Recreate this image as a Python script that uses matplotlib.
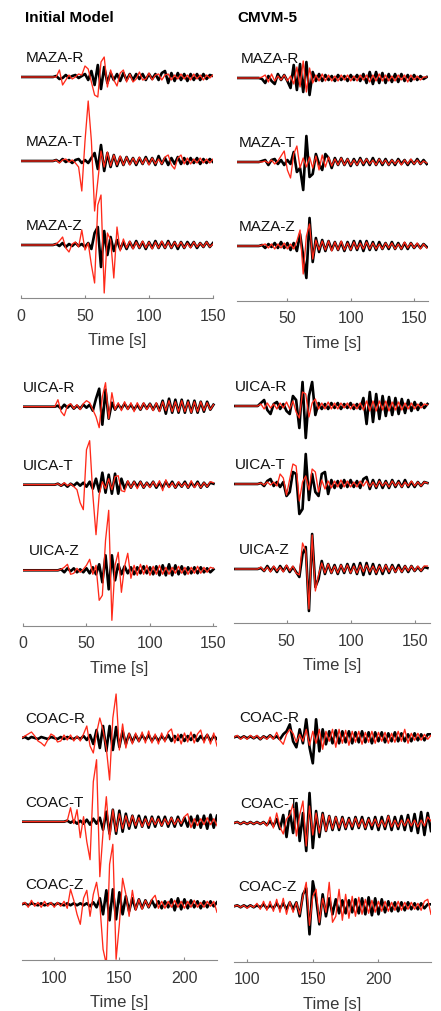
import numpy as np
import matplotlib.pyplot as plt

plt.rcParams['font.family'] = ['Liberation Sans', 'DejaVu Sans']

# =========================================================
# Waveform data: amplitude (px, up positive) sampled every DT seconds
# "obs" = black trace, "syn" = red trace
# =========================================================
DT = 2.5

# ---- MAZA, initial model (t from 0 s) ----
init_maza_r_obs = [0, 0, 0, 0, 0, 0, 0, 0, 0, 0, 0,
                   1, -2, -1, 2, -1, 1, 2, -1, 1, 3, -3, 6, -8, 12, -12, 10, -6, 4, -3, 3,
                   -4, 4, -3, 3, -3, 3, -2, 3, -3, 3, -2, 3, -3, 4, 6, -6, 4, -4, 4, -3,
                   3, -4, 3, -3, 3, -3, 3, -2, 2, 1]
init_maza_r_syn = [0, 0, 0, 0, 0, 0, 0, 0, 0, 0, 0, 0,
                   7, -8, -3, 2, -2, 0, 3, 2, 11, 8, -5, -18, -20, 15, 20, -10, 7, -3, -9,
                   4, 7, -5, 3, -5, -2, 5, -3, -2, 4, -3, 2, 3, -3, 2, 3, -3, 2, -2, 3,
                   -2, 2, -3, 3, -2, 2, -3, 2, -1, 2]
init_maza_t_obs = [0, 0, 0, 0, 0, 0, 0, 0, 0, 0, 0,
                   1, -1, 2, -1, 1, -2, 1, 2, -2, 1, -2, 3, 8, -8, 16, -10, 8, -6, 6, -5,
                   4, -4, 4, -3, 3, -4, 3, -3, 4, -3, 3, -4, 5, -3, 3, -4, 3, -3, 4, -3,
                   3, -3, 3, -2, 3, -3, 2, -2, 2, -1]
init_maza_t_syn = [0, 0, 0, 0, 0, 0, 0, 0, 0, 0, 0,
                   1, -2, 1, 2, -1, 1, -2, -6, -30, 20, 60, 20, -50, -20, 10, -6, 9, -5, 6, -4,
                   5, -4, 4, -4, 3, -3, 4, -3, 3, -4, 3, -3, 2, -3, 4, 6, -4, -8, 3, 6,
                   -3, 3, -3, 2, -2, 3, -2, 2, -2, 2]
init_maza_z_obs = [0, 0, 0, 0, 0, 0, 0, 0, 0, 0, 0,
                   1, -1, 2, -2, 1, -1, 2, -1, 1, -2, 2, -4, 12, 18, -22, 14, -10, 8, -6, 5,
                   -4, 3, -4, 3, -3, 4, -3, 3, -4, 3, -3, 4, -3, 3, -3, 4, -3, 3, -4, 3,
                   -3, 3, -2, 3, -3, 2, -2, 3, -2, 2]
init_maza_z_syn = [0, 0, 0, 0, 0, 0, 0, 0, 0, 0, 0,
                   1, 4, 8, -3, -7, 1, 3, -2, 15, -5, 2, -20, -38, 40, 50, -48, 12, 5, -33, 18,
                   -6, 6, -3, 4, -4, 3, -3, 4, -3, 3, -4, 3, -3, 4, -3, 3, -3, 3, -2, 3,
                   -3, 2, -3, 3, -2, 2, -2, 3, -2, 1]

# ---- MAZA, CMVM-5 (t from 10 s) ----
cmvm_maza_r_obs = [0, 0, 0, 0, 0, 0, 0, 0,
                   -1, -5, 2, -3, -6, 4, -2, 3, -3, -10, 13, -12, 14, -14, 16, -17, 6, -3,
                   4, -3, 3, -2, 2, -3, 3, -2, 2, -3, 3, -2, 3, -3, 4, -5, 6, -6, 6, -5,
                   5, -5, 4, -4, 4, -4, 4, -3, 3, -3, 3, -2, 2, -1, 1]
cmvm_maza_r_syn = [0, 0, 0, 0, 0, 0, 0, 0,
                   1, 3, -4, 4, -3, 2, -2, 3, -3, 2, -6, 11, -9, 17, -14, 10, -5, 3,
                   -3, 4, -3, 3, -3, 2, -3, 3, -2, 3, -3, 2, -3, 3, -2, 3, -4, 3, -3, 4,
                   -3, 3, -3, 2, -3, 3, -2, 3, -4, 3, -2, 2, -2, 1, 1]
cmvm_maza_t_obs = [0, 0, 0, 0, 0, 0, 0, 0,
                   1, 2, -3, 2, 3, -2, 2, -3, 2, -2, 10, -10, -6, -28, 26, -15, -12, 8,
                   -2, -8, 8, 4, -6, 4, -3, 4, -3, 3, -4, 3, -3, 4, -3, 3, -3, 4, -3, 3,
                   -3, 3, -3, 2, -3, 3, -2, 2, -3, 2, -2, 3, -2, 2, -2]
cmvm_maza_t_syn = [0, 0, 0, 0, 0, 0, 0, 0,
                   0, 1, -1, 2, -2, 1, 6, 11, -8, -16, 8, 16, -6, 4, -5, 5, -6, 6,
                   -8, 7, -5, 5, -4, 3, -3, 4, -3, 3, -3, 2, -3, 3, -2, 3, -2, 2, -3, 3,
                   -2, 2, -3, 2, -2, 2, -3, 2, -2, 3, -2, 2, -2, 1, -1]
cmvm_maza_z_obs = [0, 0, 0, 0, 0, 0, 0, 0,
                   1, -2, 2, -1, 3, -2, 4, -2, 3, -4, 3, -5, 12, -10, -32, 28, -16, 8,
                   -6, 6, -5, 5, -4, 4, -4, 4, -5, 4, -4, 5, -4, 5, -5, 5, -4, 4, -4, 4,
                   -3, 3, -3, 4, -3, 3, -3, 3, -3, 3, -2, 2, -2, 2, -1]
cmvm_maza_z_syn = [0, 0, 0, 0, 0, 0, 0, 0,
                   1, 2, -2, 2, -3, 2, -2, 3, -3, 2, -3, 5, 16, -28, 10, 22, -13, 6,
                   -4, 5, -4, 5, -5, 4, -4, 5, -4, 3, -4, 4, -3, 3, -3, 4, -3, 3, -3, 2,
                   -3, 3, -2, 3, -3, 2, -3, 4, -2, 3, -2, 3, -3, 2, -2]

# ---- UICA, initial model (t from 0 s) ----
init_uica_r_obs = [0, 0, 0, 0, 0, 0, 0, 0, 0, 0, 0,
                   1, -2, 2, -1, 2, -2, 1, -2, 2, -1, 2, -4, 8, 18, -18, 17, -12, 4, -3, 2,
                   -2, 3, -2, 2, -3, 2, -3, 3, -2, 3, -3, 3, -4, 6, -7, 8, -6, 7, -6, 7,
                   -6, 6, -6, 6, -6, 5, -5, 5, -3, 2]
init_uica_r_syn = [0, 0, 0, 0, 0, 0, 0, 0, 0, 0, 0,
                   7, -5, -9, 1, 3, -2, 2, -3, 3, 6, 4, -3, -10, -21, 10, 24, -12, 14, -3, 4,
                   -4, 5, -3, 4, -5, 4, -3, 4, -3, 3, -4, 4, -5, 5, -4, 6, -5, 5, -5, 6,
                   -5, 5, -6, 5, -5, 5, -4, 4, -3, 2]
init_uica_t_obs = [0, 0, 0, 0, 0, 0, 0, 0, 0, 0, 0,
                   1, -1, 1, -2, 1, -1, 2, -1, 2, -2, 3, -4, 6, -7, 12, -8, 10, -9, 11, -9,
                   6, -4, 3, -3, 3, -2, 3, -3, 2, -2, 3, -3, 2, -3, 3, -2, 3, -3, 2, -2,
                   3, -3, 2, -2, 3, -3, 2, -2, 2, 1]
init_uica_t_syn = [0, 0, 0, 0, 0, 0, 0, 0, 0, 0, 0,
                   1, -1, 2, -1, 1, -2, -5, -18, -25, 35, 44, -10, -50, -10, 3, -4, 6, -5, 8, 9,
                   -6, -7, 4, -3, 3, -4, 3, -3, 2, -3, 3, -2, 4, -6, 5, -3, 2, -3, 3, -2,
                   2, -3, 4, -3, 2, -3, 2, -2, 3, 2]
init_uica_z_obs = [0, 0, 0, 0, 0, 0, 0, 0, 0, 0, 0, 0,
                   1, -2, 2, -1, 2, -2, 1, -2, 2, -3, 3, -4, 6, -12, 15, -19, 15, -10, 6,
                   -4, 4, -3, 3, -4, 3, -3, 4, -3, 3, -4, 4, -5, 5, -5, 6, -5, 5, -4, 4,
                   -4, 3, -3, 3, -3, 3, -2, 2, -2, 1]
init_uica_z_syn = [0, 0, 0, 0, 0, 0, 0, 0, 0, 0, 0, 0,
                   1, 3, 6, -4, -3, 2, -2, 1, 5, 11, -4, 5, -30, -25, 30, 60, -50, 5, 18,
                   -22, 4, 17, -8, 5, -5, 6, -4, 5, -5, 4, -4, 5, -4, 3, -4, 3, -3, 4, -3,
                   3, -4, 3, -3, 4, -3, 3, -2, 3, 2]

# ---- UICA, CMVM-5 (t from 10 s) ----
cmvm_uica_r_obs = [0, 0, 0, 0, 0, 0, 0, 0,
                   3, 6, -4, -8, 2, 4, -3, 2, -5, -8, 10, 6, -22, 24, -32, 10, 24, -9,
                   3, -3, 2, -3, 3, -2, 3, -3, 2, -2, 3, -3, 2, -3, 8, -18, 14, -16, 12, -13,
                   10, -10, 9, -9, 8, -8, 7, -7, 6, -5, 4, -4, 3, -2, 2]
cmvm_uica_r_syn = [0, 0, 0, 0, 0, 0, 0, 0,
                   2, -3, 3, -2, 2, -3, 3, -2, 4, -3, 5, -6, -12, 14, 12, -11, 3, 7,
                   -3, 3, -3, 4, -3, 3, -3, 3, -2, 3, -3, 2, -3, 3, -4, 5, -5, 5, -5, 5,
                   -4, 5, -5, 4, -4, 4, -4, 3, -3, 3, -3, 2, -2, 2, 1]
cmvm_uica_t_obs = [0, 0, 0, 0, 0, 0, 0, 0,
                   1, -2, 3, 5, -2, 2, -3, 2, -12, -8, 12, 10, -30, -25, 30, -16, 10, -8,
                   -12, 10, 12, -10, 4, -4, 3, -4, 4, -3, 4, -3, 3, -4, 5, 7, -5, 4, -4, 4,
                   -4, 3, -4, 4, -3, 3, -3, 4, -3, 2, -3, 2, -2, 2, 1]
cmvm_uica_t_syn = [0, 0, 0, 0, 0, 0, 0, 0,
                   1, -1, 2, -1, 2, -2, 10, 6, -11, 5, 20, 18, -17, 2, 8, -6, 15, 12,
                   -8, 4, -5, 3, -4, 3, -3, 4, -3, 3, -3, 2, -3, 3, -2, 3, -3, 2, -3, 3,
                   -2, 2, -3, 3, -2, 2, -3, 2, -2, 3, -2, 2, -2, 2, 1]
cmvm_uica_z_obs = [0, 0, 0, 0, 0, 0, 0, 0,
                   1, -2, 3, -2, 2, -3, 3, -2, 3, -3, 2, -3, -8, 15, 22, -42, 35, -18,
                   -10, 8, -5, 5, -4, 4, -5, 4, -4, 5, -4, 5, -5, 6, -6, 6, -5, 5, -5, 4,
                   -5, 4, -4, 4, -3, 4, -3, 3, -3, 3, -2, 2, -2, 2, 1]
cmvm_uica_z_syn = [0, 0, 0, 0, 0, 0, 0, 0,
                   2, -2, 2, -3, 3, -2, 2, -3, 4, -2, 3, -4, -6, 26, 18, -40, 34, -22,
                   -6, 6, -4, 5, -4, 3, -4, 4, -3, 4, -4, 3, -4, 4, -3, 4, -3, 3, -4, 3,
                   -3, 4, -3, 3, -3, 2, -3, 3, -2, 3, -2, 3, -2, 3, 3]

# ---- COAC, initial model (t from 75 s) ----
init_coac_r_obs = [0, 1, -1, 1, 0, -1, 1, 0, -1, 1, 0, -1, 1, -1, 1, 0, -1, 1, -1, 2,
                   -2, 3, -6, 8, -10, 12, -13, 12, -12, 11, -9, 7, -6, 4, -4, 3, -3, 3, -2, 3,
                   -3, 2, -3, 2, -2, 3, -3, 2, -2, 3, -3, 2, -2, 3, -3, 2, -2, 3, -3, 2, -1]
init_coac_r_syn = [0, 2, 4, 6, 2, -3, -5, -8, -2, 4, 2, -4, -3, 3, -2, 3, -3, 2, -3, 4,
                   12, -8, -15, 5, 20, 8, -10, -42, 20, 44, -12, 14, -10, 5, -6, 5, -4, 6, -5, 7,
                   -5, 4, -6, 5, -4, 6, 9, -5, 4, -6, 5, -4, 6, -5, 4, 8, -5, 4, -6, 5, -8]
init_coac_t_obs = [0, 0, 0, 0, 0, 0, 0, 0, 0, 0, 0, 0, 0, 0,
                   1, -1, 1, -2, 1, -2, 2, -3, 3, -2, 4, -8, 10, -12, 12, -12, 11, -10, 8, -7,
                   6, -6, 6, -5, 5, -6, 5, -5, 5, -4, 5, -5, 4, -5, 5, -4, 4, -5, 5, -6, 6,
                   -6, 6, -7, 7, -6, 6]
init_coac_t_syn = [0, 0, 0, 0, 0, 0, 0, 0, 0, 0, 0, 0, 0, 0,
                   1, 14, -2, 12, -16, 5, -20, -38, 40, 62, -55, -10, 25, -18, 12, -10, 8, -7, 6, -5,
                   6, -4, 4, -5, 3, -4, 4, -3, 3, -4, 3, -3, 4, -3, 3, -2, 5, 8, -6, 3, -4,
                   3, -3, 4, -3, 3, -4]
init_coac_z_obs = [0, 1, -1, 1, 0, -1, 1, -1, 0, 1, -1, 1, 0, -1, 1, -1, 1, -1, 1, -1,
                   1, -2, 2, -3, 6, -10, 14, -16, 15, -15, 12, -10, 8, -7, 6, -5, 5, -4, 4, -3,
                   4, -3, 3, -4, 3, -3, 5, -6, 6, -5, 5, -4, 4, -3, 3, -4, 3, -3, 3, -2, 2]
init_coac_z_syn = [0, 2, -3, 4, -2, 2, -3, 3, -2, 2, -3, 2, -2, 3, -4, 15, 4, -10, -20, 6,
                   14, -12, 10, 22, 0, -45, -60, 40, 60, -55, -20, 26, 10, -12, 14, -6, 5, -5, 4, -3,
                   5, 9, -4, 3, -4, 3, -3, 4, -3, 3, -4, 3, -3, 4, -3, 2, -3, 3, -2, 3, -8]

# ---- COAC, CMVM-5 (t from 90 s) ----
cmvm_coac_r_obs = [0, 1, -1, 1, -1, 1, -1, 1, -2, 1, -1, 2, -1, 1, -2, 3, 6, 13, -4, -10,
                   8, -6, 18, -10, -26, 18, -14, 8, -7, 6, -6, 7, -6, 6, -5, 6, -6, 5, -5, 6,
                   -5, 5, -6, 5, -4, 5, -5, 4, -4, 5, -4, 4, -4, 3, -4, 4, -3, 3, -3, 3, 3]
cmvm_coac_r_syn = [0, 2, -2, 1, -2, 2, -1, 2, -2, 1, -2, 2, -2, 5, -3, -7, 3, 8, 4, -5,
                   3, -4, 8, -8, 6, -6, 8, -12, 6, -4, 8, -10, 8, -6, 7, -8, 6, -5, 6, -7,
                   5, -5, 6, -6, 5, -4, 5, -6, 4, -5, 6, -4, 8, -6, 4, -3, 4, -3, 3, -2, 2]
cmvm_coac_t_obs = [0, 1, -1, 1, -1, 1, -1, 1, -1, 1, -2, 2, -3, 4, -6, 8, -14, 12, -10, 20,
                   -18, 10, -28, 30, -25, 12, -14, 10, -8, 7, -7, 6, -7, 6, -6, 5, -6, 6, -5, 6,
                   -6, 5, -6, 6, -7, 6, -6, 7, -7, 6, -6, 7, -7, 8, -8, 9, -10, 11, -12, 10, -8]
cmvm_coac_t_syn = [0, 1, -1, 1, -1, 1, -1, 1, -1, 1, -3, 6, -5, 10, -4, -11, 4, 8, 19, -13,
                   8, 22, -23, 17, -12, 10, -10, 9, -8, 7, -6, 6, -5, 5, -5, 4, -4, 5, -4, 4,
                   -5, 4, -3, 4, -4, 3, -4, 7, -4, 3, -4, 3, -3, 4, -3, 3, -4, 3, -3, 6, 2]
cmvm_coac_z_obs = [0, 1, -1, 1, -1, 1, -1, 1, -1, 2, -2, 1, -2, 3, -2, 3, -3, 4, -3, 4,
                   -10, 12, 18, -28, 25, 8, -18, 12, -10, 8, -8, 7, -7, 6, -7, 6, -6, 7, -7, 8,
                   -8, 9, -9, 8, -8, 7, -6, 5, -5, 4, -5, 4, -4, 4, -3, 3, -3, 3, -2, 2, 2]
cmvm_coac_z_syn = [0, 1, -1, 1, -2, 1, -1, 3, -3, 5, -4, 5, -5, 7, -6, 8, -8, 5, -6, 4,
                   -8, 10, 24, -19, 10, 17, -16, 8, -6, 24, -16, -10, 17, -14, 12, -12, 10, -10, 9, -8,
                   7, -7, 6, -6, 5, -5, 5, -5, 4, -4, 5, -4, 4, -3, 4, -3, 3, -4, 5, 7, -8]

# =========================================================
# Panel layout (pixel units of the 441x1012 figure)
# =========================================================
W, H = 441, 1012
PANEL_TOP = 275                       # panel height above spine, px

panels = [
    dict(box=(21, 213, 299), xlim=(0, 150), t0=0, ticks=[0, 50, 100, 150], name='MAZA',
         base=[221, 137, 53], lab_x=[4, 4, 4],
         obs=[init_maza_r_obs, init_maza_t_obs, init_maza_z_obs],
         syn=[init_maza_r_syn, init_maza_t_syn, init_maza_z_syn]),
    dict(box=(236.7, 428, 301.7), xlim=(10, 161), t0=10, ticks=[50, 100, 150], name='MAZA',
         base=[222.7, 138.7, 54.7], lab_x=[13, 12, 12],
         obs=[cmvm_maza_r_obs, cmvm_maza_t_obs, cmvm_maza_z_obs],
         syn=[cmvm_maza_r_syn, cmvm_maza_t_syn, cmvm_maza_z_syn]),
    dict(box=(23, 216, 626.7), xlim=(0, 152), t0=0, ticks=[0, 50, 100, 150], name='UICA',
         base=[219, 141, 55.4], lab_x=[0, 0, 5],
         obs=[init_uica_r_obs, init_uica_t_obs, init_uica_z_obs],
         syn=[init_uica_r_syn, init_uica_t_syn, init_uica_z_syn]),
    dict(box=(234, 430, 624), xlim=(9, 162), t0=10, ticks=[50, 100, 150], name='UICA',
         base=[217, 139, 54], lab_x=[10, 10, 13],
         obs=[cmvm_uica_r_obs, cmvm_uica_t_obs, cmvm_uica_z_obs],
         syn=[cmvm_uica_r_syn, cmvm_uica_t_syn, cmvm_uica_z_syn]),
    dict(box=(21.7, 217, 961), xlim=(75, 225), t0=75, ticks=[100, 150, 200], name='COAC',
         base=[222, 138.3, 55.7], lab_x=[78, 78, 77.5],
         obs=[init_coac_r_obs, init_coac_t_obs, init_coac_z_obs],
         syn=[init_coac_r_syn, init_coac_t_syn, init_coac_z_syn]),
    dict(box=(234, 431, 962.7), xlim=(90, 240), t0=90, ticks=[100, 150, 200], name='COAC',
         base=[224.4, 138.7, 55.4], lab_x=[94, 94.5, 93.5],
         obs=[cmvm_coac_r_obs, cmvm_coac_t_obs, cmvm_coac_z_obs],
         syn=[cmvm_coac_r_syn, cmvm_coac_t_syn, cmvm_coac_z_syn]),
]
components = ['R', 'T', 'Z']

# =========================================================
# Plot
# =========================================================
fig = plt.figure(figsize=(W / 100, H / 100), dpi=100)

for p in panels:
    left, right, spine = p['box']
    ax = fig.add_axes([left / W, 1 - spine / H, (right - left) / W, PANEL_TOP / H])
    ax.set_xlim(*p['xlim'])
    ax.set_ylim(0, PANEL_TOP)

    for k, comp in enumerate(components):
        off = p['base'][k]
        obs = np.array(p['obs'][k], dtype=float)
        syn = np.array(p['syn'][k], dtype=float)
        t_obs = p['t0'] + DT * np.arange(len(obs))
        t_syn = p['t0'] + DT * np.arange(len(syn))
        ax.plot(t_obs, off + obs, color='black', lw=1.9, solid_joinstyle='round', zorder=2)
        ax.plot(t_syn, off + syn, color='#ff2a1a', lw=0.95, solid_joinstyle='round', zorder=3)
        ax.text(p['lab_x'][k], off + 20, f"{p['name']}-{comp}", fontsize=11,
                color='#111111', va='center', ha='left', zorder=4)

    for s in ['top', 'left', 'right']:
        ax.spines[s].set_visible(False)
    ax.spines['bottom'].set_color('#8a8a8a')
    ax.spines['bottom'].set_linewidth(0.8)
    ax.set_yticks([])
    ax.set_xticks(p['ticks'])
    ax.tick_params(axis='x', direction='in', length=2.5, color='#8a8a8a',
                   labelsize=11.5, labelcolor='#383838', pad=7)
    ax.set_xlabel('Time [s]', fontsize=12, color='#383838', labelpad=7)
    ax.patch.set_visible(False)

fig.text(25 / W, 1 - 18 / H, 'Initial Model', fontsize=11, fontweight='bold',
         va='center', ha='left')
fig.text(237 / W, 1 - 18 / H, 'CMVM-5', fontsize=11, fontweight='bold',
         va='center', ha='left')

fig.savefig('out.png', dpi=100)
